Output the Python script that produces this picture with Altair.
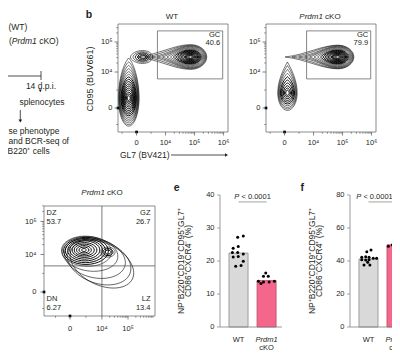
import math
import altair as alt
import pandas as pd

FONT = "Liberation Sans"
INK = "#231f20"
AXC = "#808285"
TK = "#4d4d4f"
W, H = 384, 342

# ------------------------------------------------------------------
# values
# ------------------------------------------------------------------
groups = ["WT", "Prdm1 cKO"]
bar_fill = ["#d9d9d9", "#f4668a"]
bar_line = ["#8a8a8a", "#b9506c"]

# panel e : CD86+CXCR4- (%) ; panel f : CD86-CXCR4+ (%)
e_mean = [22.4, 14.1]
e_wt = [27.2, 27.6, 23.9, 24.4, 22.6, 22.6, 22.1, 21.2, 21.4, 19.9, 18.4, 18.6]
e_wt_jit = [-0.03, 0.17, -0.19, -0.01, -0.22, -0.03, 0.17, -0.19, -0.01, 0.17, -0.10, 0.09]
e_ko = [16.4, 15.4, 15.4, 13.9, 13.6, 13.6, 13.9, 13.2]
e_ko_jit = [-0.03, -0.11, 0.06, -0.29, -0.11, 0.09, 0.28, -0.20]

f_mean = [41.2, 49.8]
f_wt = [45.6, 46.7, 42.2, 42.6, 42.2, 40.8, 40.6, 40.8, 41.6, 41.6, 37.6, 37.6, 39.2]
f_wt_jit = [-0.06, 0.09, -0.24, -0.10, 0.02, -0.24, -0.10, 0.02, 0.17, 0.29, -0.16, 0.05, -0.03]
f_ko = [55.0, 54.5, 48.9, 49.7, 49.3, 49.3]
f_ko_jit = [-0.08, 0.06, -0.29, -0.15, 0.01, 0.13]

e_ticks = [0, 10, 20, 30, 40]
f_ticks = [0, 20, 40, 60, 80]
p_label = ["P", "< 0.0001"]
e_title = ["NP\u207aB220\u207aCD19\u207aCD95\u207aGL7\u207a", "CD86\u207aCXCR4\u207b (%)"]
f_title = ["NP\u207aB220\u207aCD19\u207aCD95\u207aGL7\u207a", "CD86\u207bCXCR4\u207a (%)"]

# panel b gates (display units: decades on the biexponential axes)
gc_gate_wt = [0.72, 2.97, 0.97, 2.57]
gc_gate_ko = [0.76, 2.97, 0.97, 2.57]
gc_name = "GC"
gc_pct = ["40.6", "79.9"]
b_titles = ["WT", "Prdm1", "cKO"]
b_xtitle = "GL7 (BV421)"
b_ytitle = "CD95 (BUV661)"

# panel d (Prdm1 cKO) quadrant gate
quad_x, quad_y = 1.1, 0.87
quad_lab = ["DZ", "GZ", "DN", "LZ"]
quad_pct = ["53.7", "26.7", "6.27", "13.4"]

# contour rings: centre (u, v) and per ring: tail, head, half thickness (decades), angle
rings_wt = [
    dict(u=1.86, v=1.70, ang=0,
         L=[.06, .10, .14, .18, .22, .27, .32, .37, .43, .50, .58, .68, .80, .95, 1.12, 1.32, 1.55, 1.80],
         R=[.06, .09, .12, .15, .18, .21, .24, .27, .30, .33, .36, .39, .42, .45, .48, .51, .53, .55],
         h=[.04, .06, .08, .10, .12, .14, .16, .18, .20, .22, .24, .27, .30, .33, .36, .38, .40, .42]),
    dict(u=0.21, v=1.70, ang=0,
         L=[.10, .17, .25, .33, .42], R=[.10, .16, .22, .28, .34], h=[.06, .10, .14, .18, .22]),
    dict(u=-0.27, v=0.33, ang=90,
         L=[.08, .14, .20, .27, .34, .41, .48, .56, .64, .72, .81, .90, 1.00, 1.11, 1.23, 1.36],
         R=[.08, .13, .18, .24, .30, .36, .42, .48, .54, .60, .66, .72, .78, .84, .90, .95],
         h=[.05, .08, .11, .14, .16, .18, .20, .22, .24, .26, .28, .30, .31, .32, .34, .35]),
]
rings_ko = [
    dict(u=1.83, v=1.70, ang=0,
         L=[.06, .10, .14, .18, .22, .27, .32, .37, .43, .50, .58, .68, .80, .95, 1.12, 1.32, 1.55, 1.78],
         R=[.06, .09, .12, .15, .18, .21, .24, .27, .30, .33, .36, .39, .42, .45, .48, .51, .53, .55],
         h=[.04, .06, .08, .10, .12, .14, .16, .18, .20, .22, .24, .27, .30, .33, .35, .37, .39, .40]),
    dict(u=0.10, v=0.50, ang=90,
         L=[.10, .17, .25, .34, .44, .55, .67, .80, .93, 1.05],
         R=[.08, .13, .19, .25, .31, .37, .43, .49, .54, .59],
         h=[.06, .10, .14, .18, .21, .24, .27, .29, .31, .33]),
]
rings_d = [
    dict(u=[.48, .48, .48, .49, .50, .51, .52, .53, .55, .57, .69, .86, 1.0, 1.10],
         v=[1.40, 1.40, 1.40, 1.40, 1.40, 1.40, 1.39, 1.38, 1.37, 1.36, 1.27, 1.13, 1.0, .93],
         ang=[0, 0, 0, 0, 0, 0, 0, 0, 0, 3, 8, 14, 20, 26],
         L=[.08, .17, .25, .34, .42, .51, .59, .68, .76, .85, .95, 1.05, 1.12, 1.15],
         R=[.08, .17, .25, .34, .42, .51, .59, .68, .76, .85, .95, 1.05, 1.12, 1.15],
         h=[.05, .10, .15, .20, .25, .31, .36, .41, .46, .51, .58, .66, .72, .71]),
    dict(u=1.31, v=1.33, ang=0, L=[.10, .17, .24], R=[.10, .17, .24], h=[.07, .12, .17]),
]
# events piled up on the zero lines
zero_events = dict(wt=[(-0.64, 0.0), (0.0, -0.8)], ko=[(-0.64, 0.0), (0.0, -0.8)],
                   d=[(-0.897, 0.0), (0.0, -0.8)])

# panel a text
a_text = ["(WT)", "(", "Prdm1", "cKO)", "14 d.p.i.", "splenocytes",
          "se phenotype", "and BCR-seq of", "B220\u207a cells"]

# ------------------------------------------------------------------
# layout: pixel box of each panel in the 384 x 342 canvas
# ------------------------------------------------------------------
BOX = {
    "wt": dict(x=[110, 220], y=[124, 16]),
    "ko": dict(x=[258, 368], y=[124, 16]),
    "d": dict(x=[36, 147], y=[308, 198]),
    "e": dict(x=[212, 274], y=[319, 187]),
    "f": dict(x=[342, 384], y=[319, 187]),
}
PPD = 29.5  # pixels per decade on the flow axes


def one(**kw):
    return pd.DataFrame({k: [v] for k, v in kw.items()})


def txt(t, x, y, size=8.5, align="left", italic=False, bold=False, baseline="middle",
        color=INK, angle=0):
    return alt.Chart(one(t=t)).mark_text(
        align=align, baseline=baseline, fontSize=size, font=FONT, color=color,
        fontStyle="italic" if italic else "normal", angle=angle,
        fontWeight="bold" if bold else "normal",
    ).encode(text="t:N", x=alt.value(x), y=alt.value(y))


def seg(x, y, x2=None, y2=None, w=0.8, color=INK):
    enc = dict(x=alt.value(x), y=alt.value(y))
    if x2 is not None:
        enc["x2"] = alt.value(x2)
    if y2 is not None:
        enc["y2"] = alt.value(y2)
    return alt.Chart(one(a=0)).mark_rule(color=color, strokeWidth=w).encode(**enc)


def tri(x, y, shape, size=12):
    return alt.Chart(one(a=0)).mark_point(shape=shape, filled=True, size=size, color=INK,
                                          opacity=1).encode(x=alt.value(x), y=alt.value(y))


def blob_path(L, R, h):
    s = max(L, R, h)
    l, r, t = L / s, R / s, h / s
    k = min(1.0, max(0.0, (L / R - 1.0) / 1.5))
    c1x, c1y = -l + 0.4 * l * k, 0.55 * t - 0.35 * t * k
    c2x = -0.55 * l + 0.25 * l * k
    n = lambda z: f"{z:.3f}"
    p = (f"M{n(-l)},0"
         f"C{n(c1x)},{n(-c1y)},{n(c2x)},{n(-t)},0,{n(-t)}"
         f"C{n(0.55 * r)},{n(-t)},{n(r)},{n(-0.55 * t)},{n(r)},0"
         f"C{n(r)},{n(0.55 * t)},{n(0.55 * r)},{n(t)},0,{n(t)}"
         f"C{n(c2x)},{n(t)},{n(c1x)},{n(c1y)},{n(-l)},0Z")
    return p, s


def as_list(v, n):
    return v if isinstance(v, list) else [v] * n


def ring_df(pops):
    rows = []
    for p in pops:
        n = len(p["L"])
        for i, (l, r, t, a, u, v) in enumerate(zip(p["L"], p["R"], p["h"], as_list(p["ang"], n),
                                                   as_list(p["u"], n), as_list(p["v"], n))):
            path, s = blob_path(l, r, t)
            rows.append({"u": u, "v": v, "path": path, "size": (2 * s * PPD) ** 2, "ang": a,
                         "w": 0.95 if i < 0.6 * n else 0.55})
    return pd.DataFrame(rows)


def axis_layers(xs, ys, box, xt, yt, xlab_dy, ylab_dx, tcol=TK, major=3.5, minor=1.8,
                lsize=7.5):
    """ticks and tick labels drawn through the panel's own scales"""
    left, bottom = box["x"][0], box["y"][0]
    out = []
    if xt is not None:
        xmaj, xlab, xmin = xt
        X = alt.X("t:Q", scale=xs, axis=None)
        out.append(alt.Chart(pd.DataFrame({"t": xmaj})).mark_rule(color=tcol, strokeWidth=0.7)
                   .encode(x=X, y=alt.value(bottom), y2=alt.value(bottom + major)))
        if xmin:
            out.append(alt.Chart(pd.DataFrame({"t": xmin})).mark_rule(color=tcol, strokeWidth=0.6)
                       .encode(x=X, y=alt.value(bottom), y2=alt.value(bottom + minor)))
        if xlab:
            out.append(alt.Chart(pd.DataFrame({"t": xmaj, "l": xlab})).mark_text(
                baseline="middle", fontSize=lsize, font=FONT, color=INK)
                .encode(x=X, y=alt.value(bottom + xlab_dy), text="l:N"))
    if yt is not None:
        ymaj, ylab, ymin = yt
        Y = alt.Y("t:Q", scale=ys, axis=None)
        out.append(alt.Chart(pd.DataFrame({"t": ymaj})).mark_rule(color=tcol, strokeWidth=0.7)
                   .encode(y=Y, x=alt.value(left - major), x2=alt.value(left)))
        if ymin:
            out.append(alt.Chart(pd.DataFrame({"t": ymin})).mark_rule(color=tcol, strokeWidth=0.6)
                       .encode(y=Y, x=alt.value(left - minor), x2=alt.value(left)))
        out.append(alt.Chart(pd.DataFrame({"t": ymaj, "l": ylab})).mark_text(
            align="right", baseline="middle", fontSize=lsize, font=FONT, color=INK)
            .encode(y=Y, x=alt.value(left + ylab_dx), text="l:N"))
    return out


def flow_panel(key, xdom, ydom, xt, yt, pops, xlab_dy, ylab_dx, extra=()):
    b = BOX[key]
    xs = alt.Scale(domain=xdom, range=b["x"], nice=False, zero=False)
    ys = alt.Scale(domain=ydom, range=b["y"], nice=False, zero=False)
    frame = alt.Chart(one(x0=xdom[0], x1=xdom[1], y0=ydom[0], y1=ydom[1])).mark_rect(
        fillOpacity=0, stroke="#6d6e71", strokeWidth=0.8
    ).encode(x=alt.X("x0:Q", scale=xs, axis=None), x2="x1:Q",
             y=alt.Y("y0:Q", scale=ys, axis=None), y2="y1:Q")
    rings = alt.Chart(ring_df(pops)).mark_point(
        filled=False, color="black", opacity=1
    ).encode(x=alt.X("u:Q", scale=xs, axis=None), y=alt.Y("v:Q", scale=ys, axis=None),
             shape=alt.Shape("path:N", scale=None), size=alt.Size("size:Q", scale=None),
             angle=alt.Angle("ang:Q", scale=None), strokeWidth=alt.StrokeWidth("w:Q", scale=None))
    ev = pd.DataFrame(zero_events[key], columns=["u", "v"])
    events = alt.Chart(ev).mark_point(shape="square", filled=True, size=7, color="black",
                                      opacity=1).encode(
        x=alt.X("u:Q", scale=xs, axis=None), y=alt.Y("v:Q", scale=ys, axis=None))
    layers = [rings, frame, events] + axis_layers(xs, ys, b, xt, yt, xlab_dy, ylab_dx)
    for fn in extra:
        layers += fn(xs, ys)
    return alt.layer(*layers)


def gate_layers(gate, pct):
    def fn(xs, ys):
        g = one(x0=gate[0], x1=gate[1], y0=gate[2], y1=gate[3], n=gc_name, p=pct)
        box = alt.Chart(g).mark_rect(fillOpacity=0, stroke="#555555", strokeWidth=0.7).encode(
            x=alt.X("x0:Q", scale=xs, axis=None), x2="x1:Q",
            y=alt.Y("y0:Q", scale=ys, axis=None), y2="y1:Q")
        out = [box]
        for field, dy in (("n", 4.5), ("p", 12.5)):
            out.append(alt.Chart(g).mark_text(
                align="right", baseline="middle", fontSize=7.5, font=FONT, color=INK,
                dx=-2.5, dy=dy).encode(
                x=alt.X("x1:Q", scale=xs, axis=None), y=alt.Y("y1:Q", scale=ys, axis=None),
                text=f"{field}:N"))
        return out
    return fn


def quad_layers(xdom, ydom):
    def fn(xs, ys):
        v = alt.Chart(one(x=quad_x, y0=ydom[0], y1=ydom[1])).mark_rule(
            color="#444444", strokeWidth=0.7).encode(
            x=alt.X("x:Q", scale=xs, axis=None), y=alt.Y("y0:Q", scale=ys, axis=None), y2="y1:Q")
        h = alt.Chart(one(y=quad_y, x0=xdom[0], x1=xdom[1])).mark_rule(
            color="#444444", strokeWidth=0.7).encode(
            y=alt.Y("y:Q", scale=ys, axis=None), x=alt.X("x0:Q", scale=xs, axis=None), x2="x1:Q")
        return [v, h]
    return fn


# ---------------- panel b -----------------
sup = ["0", "10\u2074", "10\u2075", "10\u2076"]
xt_b = ([0, 1, 2, 3], sup,
        [-0.5, 0.5] + [d + math.log10(k) for d in (1, 2) for k in range(2, 10)])
yt_b = ([0, 1.2, 2.2], sup[:3],
        [-0.55, 0.6] + [1.2 + math.log10(k) for k in range(2, 10)] + [2.2 + math.log10(k) for k in (2, 3)])
xdom_b, ydom_b = [-0.64, 3.153], [-0.8, 2.8]

b_wt = flow_panel("wt", xdom_b, ydom_b, xt_b, yt_b, rings_wt, 11, -5.5,
                  extra=[gate_layers(gc_gate_wt, gc_pct[0])])
b_ko = flow_panel("ko", xdom_b, ydom_b, xt_b, yt_b, rings_ko, 11, -5.5,
                  extra=[gate_layers(gc_gate_ko, gc_pct[1])])

# ---------------- panel d (cKO quadrants) -----------------
xt_d = ([0, 1.1, 2.0], sup[:3],
        [-0.5, 0.55] + [1.1 + 0.9 * math.log10(k) for k in range(2, 10)]
        + [2.0 + 0.9 * math.log10(k) for k in range(2, 10)])
yt_d = ([0, 1.25, 2.35], sup[:3],
        [-0.55, 0.62] + [1.25 + 1.1 * math.log10(k) for k in range(2, 10)]
        + [2.35 + 1.1 * math.log10(k) for k in (2, 3)])
xdom_d, ydom_d = [-0.897, 2.931], [-0.8, 2.867]
d_ko = flow_panel("d", xdom_d, ydom_d, xt_d, yt_d, rings_d, 13, -7.5,
                  extra=[quad_layers(xdom_d, ydom_d)])


# ---------------- bar panels e, f -----------------
def bar_panel(key, xdom, ymax, yvals, means, wt, wtj, ko, koj, line_y, text_y, p_shift=0.0):
    b = BOX[key]
    left, bottom, top = b["x"][0], b["y"][0], b["y"][1]
    xs = alt.Scale(domain=xdom, range=b["x"], nice=False, zero=False)
    ys = alt.Scale(domain=[0, ymax], range=b["y"], nice=False, zero=False)
    bars_df = pd.DataFrame({"g": groups, "pos": [0, 1], "m": means})
    bars = alt.Chart(bars_df).transform_calculate(
        x0="datum.pos - 0.34", x1="datum.pos + 0.34", y0="0"
    ).mark_rect(strokeWidth=0.8).encode(
        x=alt.X("x0:Q", scale=xs, axis=None), x2="x1:Q",
        y=alt.Y("y0:Q", scale=ys, axis=None), y2="m:Q",
        fill=alt.Fill("g:N", scale=alt.Scale(domain=groups, range=bar_fill), legend=None),
        stroke=alt.Stroke("g:N", scale=alt.Scale(domain=groups, range=bar_line), legend=None))
    dots_df = pd.DataFrame({"x": [0 + j for j in wtj] + [1 + j for j in koj], "y": wt + ko})
    dots = alt.Chart(dots_df).mark_circle(size=9, color="black", opacity=1).encode(
        x=alt.X("x:Q", scale=xs, axis=None), y=alt.Y("y:Q", scale=ys, axis=None))
    pl = alt.Chart(one(x0=0, x1=1, y=line_y)).mark_rule(color="#7a7a7a", strokeWidth=0.7).encode(
        x=alt.X("x0:Q", scale=xs, axis=None), x2="x1:Q", y=alt.Y("y:Q", scale=ys, axis=None))
    pt = one(x=0.5, y=text_y, a=p_label[0], b=p_label[1])
    p1 = alt.Chart(pt).mark_text(align="right", baseline="middle", fontSize=7.5, font=FONT,
                                 fontStyle="italic", color=INK, dx=-13.2 + p_shift).encode(
        x=alt.X("x:Q", scale=xs, axis=None), y=alt.Y("y:Q", scale=ys, axis=None), text="a:N")
    p2 = alt.Chart(pt).mark_text(align="left", baseline="middle", fontSize=7.5, font=FONT,
                                 color=INK, dx=-11.1 + p_shift).encode(
        x=alt.X("x:Q", scale=xs, axis=None), y=alt.Y("y:Q", scale=ys, axis=None), text="b:N")
    cat = pd.DataFrame({"pos": [0, 1, 1], "t": ["WT", "Prdm1", "cKO"]})
    c1 = alt.Chart(cat.iloc[[0]]).mark_text(baseline="middle", fontSize=7.5, font=FONT,
                                            color=INK).encode(
        x=alt.X("pos:Q", scale=xs, axis=None), y=alt.value(bottom + 12.5), text="t:N")
    c2 = alt.Chart(cat.iloc[[1]]).mark_text(baseline="middle", fontSize=7.5, font=FONT,
                                            color=INK, fontStyle="italic").encode(
        x=alt.X("pos:Q", scale=xs, axis=None), y=alt.value(bottom + 12.5), text="t:N")
    c3 = alt.Chart(cat.iloc[[2]]).mark_text(baseline="middle", fontSize=7.5, font=FONT,
                                            color=INK).encode(
        x=alt.X("pos:Q", scale=xs, axis=None), y=alt.value(bottom + 20.5), text="t:N")
    domain_y = seg(left, top, y2=bottom, w=0.8, color=AXC)
    domain_x = seg(left, bottom, x2=b["x"][1], w=0.8, color=AXC)
    ticks = axis_layers(xs, ys, b, None, (yvals, [str(v) for v in yvals], []), 0, -5.5,
                        tcol=AXC, major=3, lsize=7.5)
    return alt.layer(bars, dots, pl, p1, p2, c1, c2, c3, domain_y, domain_x, *ticks)


e_chart = bar_panel("e", [-0.66, 1.55], 40, e_ticks, e_mean, e_wt, e_wt_jit,
                    e_ko, e_ko_jit, 37.9, 39.4)
f_chart = bar_panel("f", [-0.66, 0.84], 80, f_ticks, f_mean, f_wt, f_wt_jit,
                    f_ko, f_ko_jit, 75.8, 78.8, p_shift=-8)

# ---------------- annotations -----------------
AX0 = 8  # panel a sits flush with the canvas edge
ann = [
    # panel a
    txt(a_text[0], AX0 - 7.5, 18.5),
    txt(a_text[1], AX0 - 7, 33),
    txt(a_text[2], AX0 - 4.2, 33, italic=True),
    txt(a_text[3], AX0 + 23.2, 33),
    seg(0, 68, x2=AX0 + 25),
    seg(AX0 + 25, 63, y2=72),
    txt(a_text[4], AX0 + 25, 78, align="center"),
    tri(AX0 + 24.3, 82.8, "triangle-down", 10),
    txt(a_text[5], AX0 + 3.5, 93.7),
    seg(AX0 + 4.3, 102, y2=112),
    tri(AX0 + 4.3, 113, "triangle-down", 14),
    txt(a_text[6], AX0 - 7.5, 123),
    txt(a_text[7], AX0 - 7.5, 133),
    txt(a_text[8], AX0 - 8.5, 143),
    # panel letters
    txt("b", 81, 9.5, size=10.5, bold=True, baseline="alphabetic", align="center"),
    txt("e", 168.7, 182.5, size=10.5, bold=True, baseline="alphabetic", align="center"),
    txt("f", 294.3, 182.5, size=10.5, bold=True, baseline="alphabetic", align="center"),
    # panel titles
    txt(b_titles[0], 164, 9, size=8, align="center"),
    txt(b_titles[1], 314.9, 9, size=8, align="right", italic=True),
    txt(b_titles[2], 317.1, 9, size=8),
    txt(b_titles[1], 96.9, 185, size=8, align="right", italic=True),
    txt(b_titles[2], 99.1, 185, size=8),
    # panel b axis titles
    txt(b_xtitle, 112, 147, size=8.5),
    seg(163, 147, x2=217),
    tri(218.5, 147, "triangle-right", 12),
    txt(b_ytitle, 82, 71, size=9, align="center", angle=270),
    # panel e / f axis titles
    txt(e_title[0], 172.5, 253, size=8.5, align="center", angle=270),
    txt(e_title[1], 179.5, 253, size=8.5, align="center", angle=270),
    txt(f_title[0], 303.7, 253, size=8.5, align="center", angle=270),
    txt(f_title[1], 310.5, 253, size=8.5, align="center", angle=270),
    # quadrant labels
    txt(quad_lab[0], 38.5, 204.5, size=7.5), txt(quad_pct[0], 38.5, 214, size=7.5),
    txt(quad_lab[1], 142.5, 204.5, size=7.5, align="right"),
    txt(quad_pct[1], 142.5, 214, size=7.5, align="right"),
    txt(quad_lab[2], 38.5, 291, size=7.5), txt(quad_pct[2], 38.5, 300, size=7.5),
    txt(quad_lab[3], 142.5, 291, size=7.5, align="right"),
    txt(quad_pct[3], 142.5, 300, size=7.5, align="right"),
]

chart = alt.layer(b_wt, b_ko, d_ko, e_chart, f_chart, *ann).resolve_scale(
    x="independent", y="independent"
).properties(
    width=W, height=H, padding=0, autosize=alt.AutoSizeParams(type="none"),
    background="white",
).configure_view(stroke=None).configure_text(font=FONT)

chart.save("out.html", embed_options={"renderer": "svg", "actions": False})
